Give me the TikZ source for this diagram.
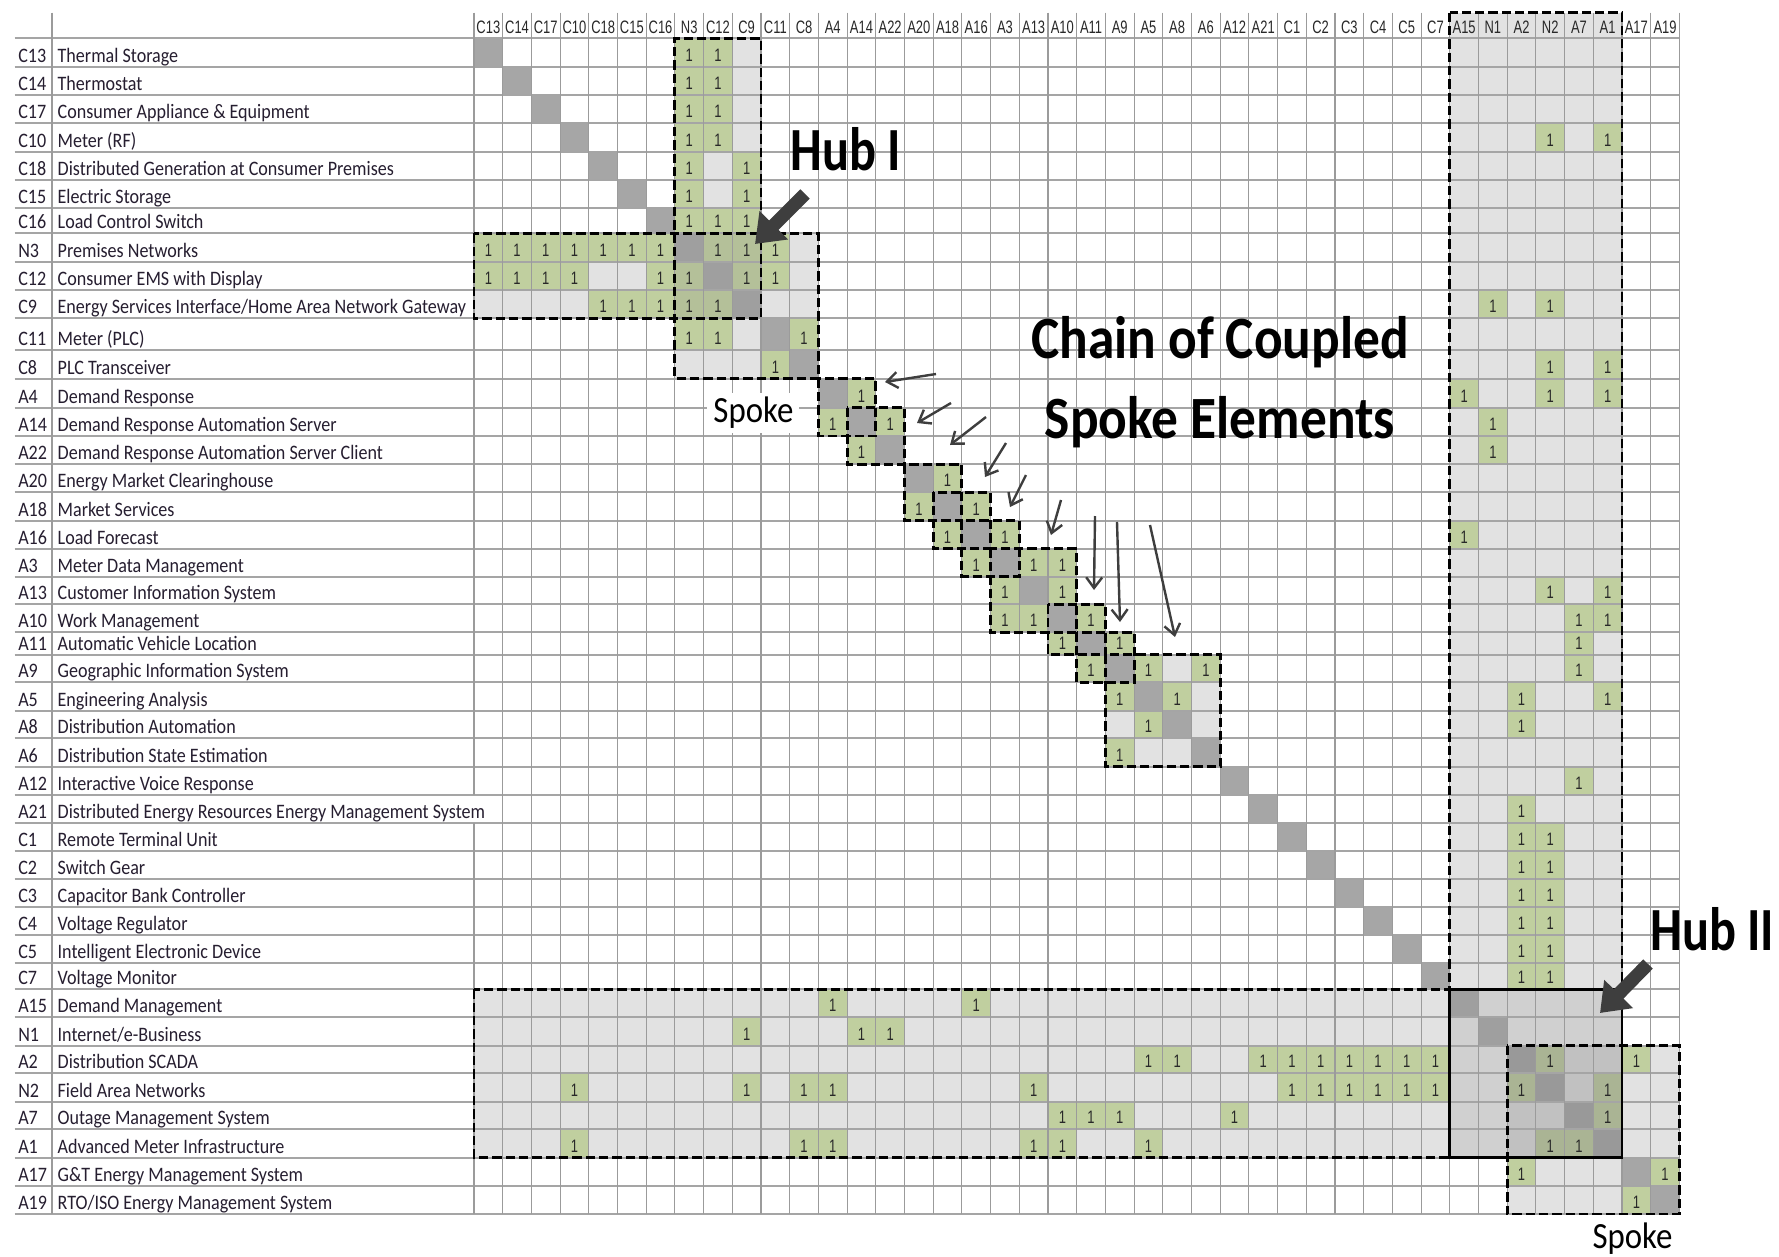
\documentclass[tikz,border=0pt]{standalone}
\usepackage{fontspec}
\usetikzlibrary{arrows.meta}
\newfontfamily\lblfont{Carlito}[FakeStretch=0.88]
\newfontfamily\numfont{Liberation Sans}[FakeStretch=0.72]
\newfontfamily\hubfont{Carlito}[FakeStretch=0.82]
\newfontfamily\chainfont{Carlito}[FakeStretch=0.89]

\definecolor{cellgreen}{RGB}{192,207,159}
\definecolor{hublight}{RGB}{226,226,226}
\definecolor{diaggray}{RGB}{166,166,166}
\definecolor{veil}{RGB}{128,128,128}
\definecolor{gridv}{RGB}{155,155,155}
\definecolor{gridh}{RGB}{165,165,165}
\definecolor{arrowgray}{RGB}{62,62,62}
\definecolor{labelink}{RGB}{38,30,48}
\definecolor{numink}{RGB}{40,40,40}

% x position of the k-th column edge (k = 0..42), in pixels
\newcommand\colx[1]{474+28.7*(#1)}
% y position of the k-th row edge (k = -1..42), in pixels
\newcommand\rowy[1]{\csname ryb#1\endcsname}

% one matrix cell
\newcommand\cellbox[3]{%
  \pgfmathtruncatemacro\cbr{#2-1}%
  \pgfmathtruncatemacro\cbc{#3-1}%
  \fill[#1] ({\colx{\cbc}},\rowy{\cbr}) rectangle ({\colx{#3}},\rowy{#2});}

% block of cells: rows #2..#4, columns #3..#5
\newcommand\region[5]{%
  \pgfmathtruncatemacro\rga{#2-1}%
  \pgfmathtruncatemacro\rgc{#3-1}%
  \path[#1] ({\colx{\rgc}},\rowy{\rga}) rectangle ({\colx{#5}},\rowy{#4});}

% row header: number and name
\newcommand\rowlabel[3]{%
  \node[idtext] (id-#1) at (18,{\rowy{#1}-4.5}) {#2};
  \node[nametext] (nm-#1) at (57.4,{\rowy{#1}-4.5}) {#3};}

\def\greenlist{1/8,1/9,2/8,2/9,3/8,3/9,4/8,4/9,5/8,5/10,6/8,6/10,7/8,7/9,7/10,%
8/1,8/2,8/3,8/4,8/5,8/6,8/7,8/9,8/10,8/11,%
9/1,9/2,9/3,9/4,9/7,9/8,9/10,9/11,%
10/5,10/6,10/7,10/8,10/9,%
11/8,11/9,11/12,12/11,%
13/14,14/13,14/15,15/14,16/17,17/16,17/18,18/17,18/19,19/18,19/20,19/21,%
20/19,20/21,21/19,21/20,21/22,22/21,22/23,23/22,23/24,23/26,24/23,24/25,25/24,26/23,%
4/38,4/40,10/36,10/38,12/38,12/40,13/35,13/38,13/40,14/36,15/36,18/35,%
20/38,20/40,21/39,21/40,22/39,23/39,24/37,24/40,25/37,27/39,28/37,%
29/37,29/38,30/37,30/38,31/37,31/38,32/37,32/38,33/37,33/38,34/37,34/38,%
35/13,35/18,36/10,36/14,36/15,%
37/24,37/25,37/28,37/29,37/30,37/31,37/32,37/33,37/34,37/38,37/41,%
38/4,38/10,38/12,38/13,38/20,38/29,38/30,38/31,38/32,38/33,38/34,38/37,38/40,%
39/21,39/22,39/23,39/27,39/40,%
40/4,40/12,40/13,40/20,40/21,40/24,40/38,40/39,%
41/37,41/42,42/41}

\begin{document}
\begin{tikzpicture}[x=0.75pt,y=-0.75pt,
  hgrid/.style={draw=gridh,line width=1.4pt},
  vgrid/.style={draw=gridv,line width=0.8pt},
  dashbox/.style={draw=black,line width=2.2pt,dash pattern=on 7pt off 3pt},
  corebox/.style={draw=black,line width=2pt},
  shade/.style={fill=veil,fill opacity=0.18},
  idtext/.style={anchor=base west,inner sep=0pt,text=labelink,font=\lblfont\fontsize{15.4}{18}\selectfont},
  nametext/.style={anchor=base west,inner sep=0pt,text=labelink,font=\lblfont\fontsize{15.4}{18}\selectfont},
  hdtext/.style={anchor=base,inner sep=0pt,text=numink,font=\numfont\fontsize{13.5}{15}\selectfont},
  onetext/.style={anchor=base,inner sep=0pt,text=numink,font=\numfont\fontsize{13.5}{15}\selectfont},
  hubtext/.style={anchor=base west,inner sep=0pt,font=\hubfont\bfseries\fontsize{46}{50}\selectfont},
  chaintext/.style={anchor=base,inner sep=0pt,font=\chainfont\bfseries\fontsize{45}{48}\selectfont},
  spoketext/.style={anchor=base,font=\chainfont\fontsize{27.7}{30}\selectfont},
  chainarrow/.style={draw=arrowgray,line width=1.8pt,-{Straight Barb[length=8pt,width=12pt]}},
  hubarrow/.style={draw=arrowgray,line width=10pt,-{Triangle[length=20pt,width=29pt]}}]

\path[use as bounding box,fill=white] (0,0) rectangle (1779,1257);

% row edges
\foreach \v [count=\i from 0] in {38.4,66.7,95.0,123.3,151.7,180.0,208.3,233.3,261.7,290.0,318.3,350.0,378.8,407.7,436.0,464.3,492.3,520.7,548.7,576.7,604.3,632.3,654.7,682.3,710.7,738.3,766.7,795.0,822.7,850.7,879.0,907.3,935.0,963.3,989.3,1017.3,1045.7,1073.3,1101.7,1129.3,1157.7,1186.0,1214.0}
  {\expandafter\xdef\csname ryb\i\endcsname{\v}}
\expandafter\def\csname ryb-1\endcsname{12.7}

% hub and spoke backgrounds
\region{fill=hublight}{1}{8}{10}{10}
\region{fill=hublight}{8}{1}{10}{10}
\region{fill=hublight}{8}{8}{12}{12}
\region{fill=hublight}{23}{23}{26}{26}
\region{fill=hublight}{0}{35}{40}{40}
\region{fill=hublight}{35}{1}{40}{40}
\region{fill=hublight}{37}{37}{42}{42}

% dependency marks and diagonal
\foreach \ra/\ca in \greenlist {\cellbox{cellgreen}{\ra}{\ca}}
\foreach \i in {1,...,42} {\cellbox{diaggray}{\i}{\i}}

% darker hub cores
\region{shade}{8}{8}{10}{10}
\region{shade}{35}{35}{40}{40}
\region{shade}{37}{37}{40}{40}

% grid
\foreach \k in {0,...,42} {\draw[hgrid] (14.5,\rowy{\k}) -- ({\colx{42}},\rowy{\k});}
\draw[vgrid] (52,12.7) -- (52,\rowy{42});
\draw[vgrid] ({\colx{0}},12.7) -- ({\colx{0}},\rowy{27});
\draw[vgrid] ({\colx{0}},\rowy{28}) -- ({\colx{0}},\rowy{42});
\foreach \k in {1,...,42} {\draw[vgrid] ({\colx{\k}},12.7) -- ({\colx{\k}},\rowy{42});}

% column headers
\foreach \lab [count=\k] in {C13,C14,C17,C10,C18,C15,C16,N3,C12,C9,C11,C8,A4,A14,A22,A20,A18,A16,A3,A13,A10,A11,A9,A5,A8,A6,A12,A21,C1,C2,C3,C4,C5,C7,A15,N1,A2,N2,A7,A1,A17,A19}
  {\node[hdtext] (hd-\k) at ({\colx{\k-0.5}},33.5) {\lab};}

% row headers
\rowlabel{1}{C13}{Thermal Storage}
\rowlabel{2}{C14}{Thermostat}
\rowlabel{3}{C17}{Consumer Appliance \& Equipment}
\rowlabel{4}{C10}{Meter (RF)}
\rowlabel{5}{C18}{Distributed Generation at Consumer Premises}
\rowlabel{6}{C15}{Electric Storage}
\rowlabel{7}{C16}{Load Control Switch}
\rowlabel{8}{N3}{Premises Networks}
\rowlabel{9}{C12}{Consumer EMS with Display}
\rowlabel{10}{C9}{Energy Services Interface/Home Area Network Gateway}
\rowlabel{11}{C11}{Meter (PLC)}
\rowlabel{12}{C8}{PLC Transceiver}
\rowlabel{13}{A4}{Demand Response}
\rowlabel{14}{A14}{Demand Response Automation Server}
\rowlabel{15}{A22}{Demand Response Automation Server Client}
\rowlabel{16}{A20}{Energy Market Clearinghouse}
\rowlabel{17}{A18}{Market Services}
\rowlabel{18}{A16}{Load Forecast}
\rowlabel{19}{A3}{Meter Data Management}
\rowlabel{20}{A13}{Customer Information System}
\rowlabel{21}{A10}{Work Management}
\rowlabel{22}{A11}{Automatic Vehicle Location}
\rowlabel{23}{A9}{Geographic Information System}
\rowlabel{24}{A5}{Engineering Analysis}
\rowlabel{25}{A8}{Distribution Automation}
\rowlabel{26}{A6}{Distribution State Estimation}
\rowlabel{27}{A12}{Interactive Voice Response}
\rowlabel{28}{A21}{Distributed Energy Resources Energy Management System}
\rowlabel{29}{C1}{Remote Terminal Unit}
\rowlabel{30}{C2}{Switch Gear}
\rowlabel{31}{C3}{Capacitor Bank Controller}
\rowlabel{32}{C4}{Voltage Regulator}
\rowlabel{33}{C5}{Intelligent Electronic Device}
\rowlabel{34}{C7}{Voltage Monitor}
\rowlabel{35}{A15}{Demand Management}
\rowlabel{36}{N1}{Internet/e-Business}
\rowlabel{37}{A2}{Distribution SCADA}
\rowlabel{38}{N2}{Field Area Networks}
\rowlabel{39}{A7}{Outage Management System}
\rowlabel{40}{A1}{Advanced Meter Infrastructure}
\rowlabel{41}{A17}{G\&T Energy Management System}
\rowlabel{42}{A19}{RTO/ISO Energy Management System}

% the 1 entries
\foreach \ra/\ca in \greenlist
  {\node[onetext] (one-\ra-\ca) at ({\colx{\ca-0.5}},{\rowy{\ra}-5.5}) {1};}

% Hub I outline: column bar, row bar and spoke block as one path
\draw[dashbox] ({\colx{0}},\rowy{7}) -- ({\colx{0}},\rowy{10}) -- ({\colx{10}},\rowy{10})
  -- ({\colx{10}},\rowy{0}) -- ({\colx{7}},\rowy{0}) -- ({\colx{7}},\rowy{12})
  -- ({\colx{12}},\rowy{12}) -- ({\colx{12}},\rowy{7}) -- cycle;

% chain of coupled spoke blocks
\region{dashbox}{13}{13}{14}{14}
\region{dashbox}{14}{14}{15}{15}
\region{dashbox}{16}{16}{17}{17}
\region{dashbox}{17}{17}{18}{18}
\region{dashbox}{18}{18}{19}{19}
\region{dashbox}{19}{19}{21}{21}
\region{dashbox}{21}{21}{22}{22}
\region{dashbox}{22}{22}{23}{23}
\region{dashbox}{23}{23}{26}{26}

% Hub II outlines
\region{dashbox}{0}{35}{40}{40}
\region{dashbox}{35}{1}{40}{40}
\region{dashbox}{37}{37}{42}{42}
\region{corebox}{35}{35}{40}{40}

% annotations
\node[hubtext] (hub1) at (790,170) {Hub I};
\node[hubtext] (hub2) at (1650,950) {Hub II};
\node[chaintext] (chain1) at (1220,358) {Chain of Coupled};
\node[chaintext] (chain2) at (1220,438) {Spoke Elements};
\node[spoketext,fill=white,inner xsep=4.5pt,inner ysep=3pt] (spoke1) at (753.4,422.7) {Spoke};
\node[spoketext,inner sep=0pt] (spoke2) at (1632.5,1248.3) {Spoke};

% arrows
\coordinate (h1s) at (805,194);  \coordinate (h1t) at (755,244);
\coordinate (h2s) at (1648,964); \coordinate (h2t) at (1600,1013);
\draw[hubarrow] (h1s) -- (h1t);
\draw[hubarrow] (h2s) -- (h2t);

\foreach \n/\sx/\sy/\tx/\ty in {1/936/374/885/382,2/951/403/917/423,3/986/417/950/445,4/1006/443/985/477,5/1026/475/1010/507,6/1061/500/1051/535,7/1095/516/1094/590,8/1117/522/1120/622,9/1150/525/1175/637}
  {\coordinate (c\n s) at (\sx,\sy);
   \coordinate (c\n t) at (\tx,\ty);
   \draw[chainarrow] (c\n s) -- (c\n t);}
\end{tikzpicture}
\end{document}
